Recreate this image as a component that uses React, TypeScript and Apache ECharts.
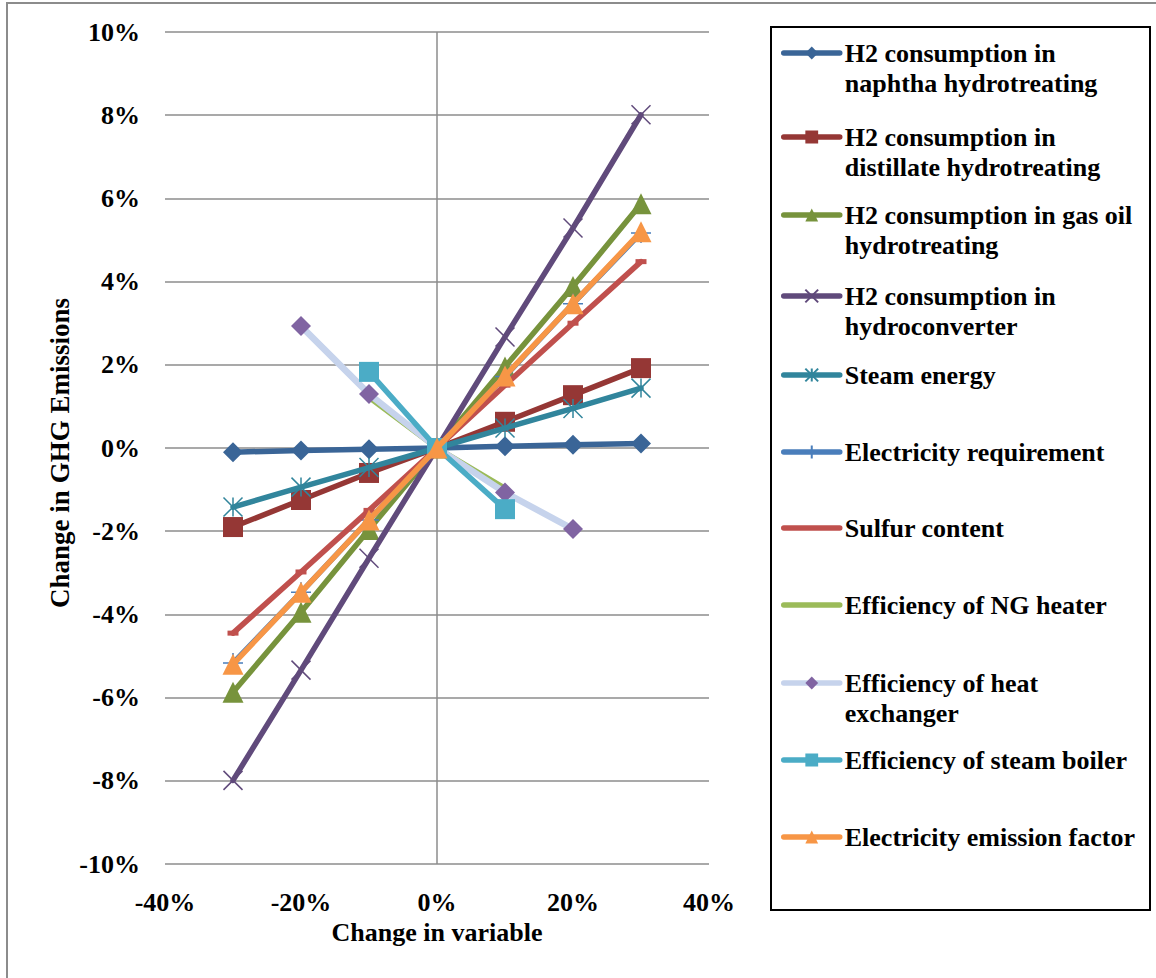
import { useEffect, useRef } from "react";
import * as echarts from "echarts";

// ---- data (x = change in variable, %, y = change in GHG emissions, %) ----
const changes = [-30, -20, -10, 0, 10, 20, 30];
const xTicks = [-40, -20, 0, 20, 40];
const yTicks = [-10, -8, -6, -4, -2, 0, 2, 4, 6, 8, 10];

const seriesNames = [
  "H2 consumption in naphtha hydrotreating",
  "H2 consumption in distillate hydrotreating",
  "H2 consumption in gas oil hydrotreating",
  "H2 consumption in hydroconverter",
  "Steam energy",
  "Electricity requirement",
  "Sulfur content",
  "Efficiency of NG heater",
  "Efficiency of heat exchanger",
  "Efficiency of steam boiler",
  "Electricity emission factor",
];
const legendLines = [
  ["H2 consumption in", "naphtha hydrotreating"],
  ["H2 consumption in", "distillate hydrotreating"],
  ["H2 consumption in gas oil", "hydrotreating"],
  ["H2 consumption in", "hydroconverter"],
  ["Steam energy"],
  ["Electricity requirement"],
  ["Sulfur content"],
  ["Efficiency of NG heater"],
  ["Efficiency of heat", "exchanger"],
  ["Efficiency of steam boiler"],
  ["Electricity emission factor"],
];

const naphtha = [-0.1, -0.06, -0.03, 0, 0.04, 0.08, 0.11];
const distillate = [-1.9, -1.25, -0.6, 0, 0.63, 1.27, 1.92];
const gasOil = [-5.87, -3.95, -1.96, 0, 1.95, 3.88, 5.87];
const hydroconverter = [-7.99, -5.34, -2.65, 0, 2.67, 5.29, 8.01];
const steamEnergy = [-1.42, -0.94, -0.47, 0, 0.48, 0.95, 1.44];
const electricityReq = [-5.17, -3.47, -1.73, 0, 1.72, 3.47, 5.17];
const sulfur = [-4.45, -2.98, -1.5, 0, 1.51, 3.0, 4.48];
const ngHeater = [null, null, 1.22, 0, -0.97, null, null];
const heatExchanger = [null, 2.93, 1.3, 0, -1.07, -1.95, null];
const steamBoiler = [null, null, 1.83, 0, -1.47, null, null];
const electricityEF = [-5.2, -3.47, -1.73, 0, 1.73, 3.47, 5.2];

const seriesValues = [
  naphtha, distillate, gasOil, hydroconverter, steamEnergy, electricityReq,
  sulfur, ngHeater, heatExchanger, steamBoiler, electricityEF,
];

// ---- styles ----
const FONT = '"Liberation Serif", "Times New Roman", serif';
const X_PATH = "path://M0,0L10,10M10,0L0,10";
const STAR_PATH = "path://M0,0L10,10M10,0L0,10M5,0L5,10";
const PLUS_PATH = "path://M5,0L5,10M0,5L10,5";

type Spec = { line: string; marker: string; symbol: string; size: any; stroke?: boolean; width: number };
const specs: Spec[] = [
  { line: "#3A6597", marker: "#3A6597", symbol: "diamond", size: 20, width: 5.5 },
  { line: "#953735", marker: "#953735", symbol: "rect", size: 20, width: 5.5 },
  { line: "#77933C", marker: "#77933C", symbol: "triangle", size: 21, width: 5.5 },
  { line: "#604A7B", marker: "#604A7B", symbol: X_PATH, size: 19, stroke: true, width: 5.5 },
  { line: "#31859C", marker: "#31859C", symbol: STAR_PATH, size: 19, stroke: true, width: 5.5 },
  { line: "#4A7EBB", marker: "#4A7EBB", symbol: PLUS_PATH, size: 20, stroke: true, width: 5.5 },
  { line: "#C0504D", marker: "#C0504D", symbol: "rect", size: [11, 5], width: 5.5 },
  { line: "#9BBB59", marker: "#9BBB59", symbol: "none", size: 0, width: 5.5 },
  { line: "#C6D3EC", marker: "#8064A2", symbol: "diamond", size: 20, width: 6.5 },
  { line: "#4BACC6", marker: "#4BACC6", symbol: "rect", size: 20, width: 5.5 },
  { line: "#F79646", marker: "#F79646", symbol: "triangle", size: 21, width: 5.5 },
];
const legendCenters = [53, 137, 215, 296, 375, 452, 528, 605, 683, 760, 837];

function toPoints(vals: (number | null)[]) {
  const out: number[][] = [];
  vals.forEach((v, i) => {
    if (v !== null && v !== undefined) out.push([changes[i], v]);
  });
  return out;
}

export default function App() {
  const ref = useRef<HTMLDivElement>(null);
  useEffect(() => {
    const chart = echarts.init(ref.current!, null, { renderer: "svg" });
    const labelStyle = { fontFamily: FONT, fontWeight: "bold" as const, fontSize: 26, color: "#000" };

    const series: any[] = [
      {
        name: "__zero",
        type: "line",
        data: [[0, 0]],
        symbol: "none",
        lineStyle: { width: 0 },
        silent: true,
        z: 1,
        markLine: {
          silent: true,
          symbol: "none",
          label: { show: false },
          lineStyle: { color: "#8c8c8c", width: 1.5, type: "solid" },
          data: [{ xAxis: 0 }],
        },
      },
    ];
    seriesNames.forEach((name, i) => {
      const s = specs[i];
      series.push({
        name,
        type: "line",
        data: toPoints(seriesValues[i]),
        symbol: s.symbol,
        symbolSize: s.size,
        showSymbol: s.symbol !== "none",
        z: 3 + i,
        lineStyle: { color: s.line, width: s.width, cap: "round", join: "round" },
        itemStyle: s.stroke
          ? { color: s.marker, borderColor: s.marker, borderWidth: 1.5 }
          : { color: s.marker, borderWidth: 0 },
        emphasis: { disabled: true },
      });
    });

    const legends = seriesNames.map((name, i) => {
      const lines = legendLines[i];
      const two = lines.length > 1;
      const halfH = two ? 45 : 15;
      const hideMarker = specs[i].symbol === "none" || i === 6;
      const item: any = { name };
      if (hideMarker) item.itemStyle = { opacity: 0 };
      // a blank leading line keeps the icon level with the first text line
      const text = two ? " \n" + lines.join("\n") : lines[0];
      return {
        data: [item],
        left: 781,
        top: legendCenters[i] - halfH,
        orient: "vertical",
        padding: 0,
        itemWidth: 56,
        itemHeight: 16,
        itemGap: 0,
        selectedMode: false,
        lineStyle: { width: 5.5 },
        formatter: () => text,
        textStyle: { ...labelStyle, lineHeight: 30 },
      };
    });

    const option: any = {
      animation: false,
      backgroundColor: "#fff",
      grid: { left: 165, right: 447, top: 32, bottom: 114, containLabel: false },
      xAxis: {
        type: "value",
        min: xTicks[0],
        max: xTicks[xTicks.length - 1],
        interval: 20,
        axisLine: { show: false },
        axisTick: { show: false },
        splitLine: { show: false },
        axisLabel: { ...labelStyle, margin: 25, formatter: (v: number) => `${v}%` },
      },
      yAxis: {
        type: "value",
        min: yTicks[0],
        max: yTicks[yTicks.length - 1],
        interval: 2,
        axisLine: { show: false },
        axisTick: { show: false },
        splitLine: { show: true, lineStyle: { color: "#8c8c8c", width: 1.5 } },
        axisLabel: { ...labelStyle, margin: 25, formatter: (v: number) => `${v}%` },
      },
      legend: legends,
      series,
      graphic: [
        {
          type: "polyline",
          silent: true,
          shape: { points: [[7, 978], [7, 3], [1156, 3]] },
          style: { stroke: "#8c8c8c", lineWidth: 2, fill: "none" },
        },
        {
          type: "rect",
          silent: true,
          shape: { x: 771, y: 27, width: 379, height: 883 },
          style: { stroke: "#000", lineWidth: 2, fill: "none" },
          z: -1,
        },
        {
          type: "text",
          silent: true,
          x: 437,
          y: 932,
          style: { text: "Change in variable", ...labelStyle, fill: "#000", align: "center", verticalAlign: "middle" },
        },
        {
          type: "text",
          silent: true,
          x: 60,
          y: 453,
          rotation: Math.PI / 2,
          style: { text: "Change in GHG Emissions", ...labelStyle, fontSize: 27, fill: "#000", align: "center", verticalAlign: "middle" },
        },
      ],
    };
    chart.setOption(option);
    return () => chart.dispose();
  }, []);
  return (
    <div
      ref={ref}
      style={{ position: "fixed", left: 0, top: 0, width: 1156, height: 978, background: "#fff" }}
    />
  );
}
